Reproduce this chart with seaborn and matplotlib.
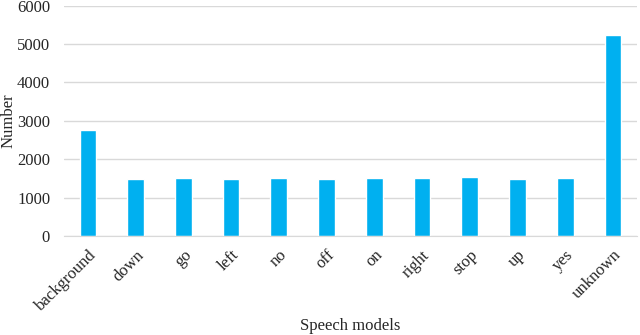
import numpy as np
import pandas as pd
import matplotlib
matplotlib.use("Agg")
import matplotlib.pyplot as plt
import seaborn as sns

categories = ["background", "down", "go", "left", "no", "off", "on", "right",
              "stop", "up", "yes", "unknown"]
counts = [2750, 1490, 1510, 1480, 1500, 1480, 1520, 1500, 1530, 1490, 1510, 5230]

df = pd.DataFrame({"word": categories, "count": counts})

sns.set_style("white")
plt.rcParams["font.family"] = ["Liberation Serif", "DejaVu Serif"]

fig = plt.figure(figsize=(6.4, 3.35), dpi=100)
ax = fig.add_axes([0.1, 0.2955, 0.895, 0.6875])

sns.barplot(data=df, x="word", y="count", color="#00B0F0", width=0.35,
            saturation=1, ax=ax, zorder=3)

ax.set_ylim(0, 6000)
ax.set_yticks(np.arange(0, 6001, 1000))
ax.set_xlim(-0.5, len(categories) - 0.5)
ax.grid(axis="y", color="#D9D9D9", linewidth=1, zorder=0)
ax.set_axisbelow(True)

for s in ["top", "right", "left"]:
    ax.spines[s].set_visible(False)
ax.spines["bottom"].set_color("#D9D9D9")
ax.spines["bottom"].set_zorder(4)

# tick marks between categories, none at the labels
ax.set_xticks(np.arange(-0.5, len(categories), 1.0), minor=True)
ax.tick_params(axis="x", which="minor", length=4, color="#D9D9D9", width=1)
ax.tick_params(axis="x", which="major", length=0, pad=8)
ax.tick_params(axis="y", length=0, pad=10, labelsize=12)
ax.set_xticks(range(len(categories)))
ax.set_xticklabels(categories, rotation=45, ha="right", rotation_mode="anchor",
                   fontsize=12)

ax.set_xlabel("Speech models", fontsize=12)
ax.set_ylabel("Number", fontsize=12)
ax.xaxis.set_label_coords(0.5, -0.355)
ax.yaxis.set_label_coords(-0.083, 0.5)

fig.savefig("out.png", dpi=100)
